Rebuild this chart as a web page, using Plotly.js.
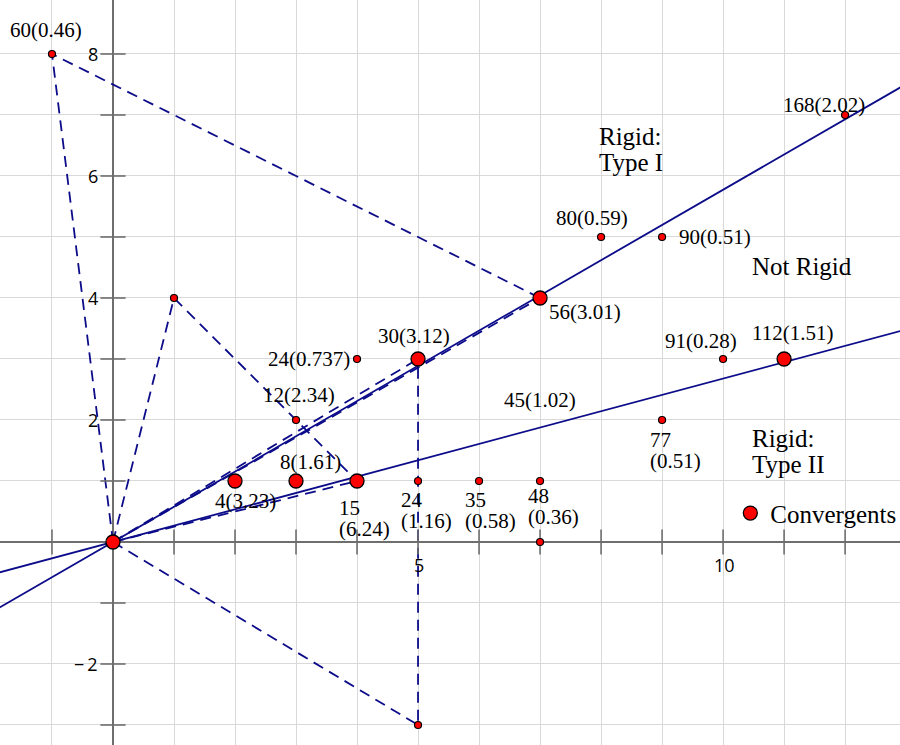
<!DOCTYPE html>
<html>
<head>
<meta charset="utf-8">
<script src="https://cdn.plot.ly/plotly-3.0.1.min.js"></script>
<style>
  html, body { margin: 0; padding: 0; background: #fff; overflow: hidden; }
  #chart { width: 900px; height: 745px; }
</style>
</head>
<body>
<div id="chart"></div>
<script>
// lattice points
const convX = [0, 2, 3, 4, 5, 7, 11];
const convY = [0, 1, 1, 1, 3, 4, 3];
const otherX = [-1, 1, 3, 4, 5, 6, 7, 7, 9, 8, 9, 10, 12, 5];
const otherY = [8, 4, 2, 3, 1, 1, 1, 0, 2, 5, 5, 3, 7, -3];

// point labels
const labelX = [-1, 4, 3, 3, 2, 4, 5, 6, 7, 7, 9, 7, 8, 9, 12, 10, 11, 5];
const labelY = [8, 3, 2, 1, 1, 1, 1, 1, 1, 2, 2, 4, 5, 5, 7, 3, 3, 3];
const labelText = ['60(0.46)', '24(0.737)', '12(2.34)', '8(1.61)', '4(3.23)',
  '15<br>(6.24)', '24<br>(1.16)', '35<br>(0.58)', '48<br>(0.36)', '45(1.02)',
  '77<br>(0.51)', '56(3.01)', '80(0.59)', '90(0.51)', '168(2.02)', '91(0.28)',
  '112(1.51)', '30(3.12)'];

// dashed polygon edges (null = break)
const dashX = [0, -1, 7, null, 0, 1, 4, null, 0, 5, null, 0, 7, null, 0, 4, null, 0, 5, 5];
const dashY = [0, 8, 4, null, 0, 4, 1, null, 0, 3, null, 0, 4, null, 0, 1, null, 0, -3, 3];

// rays through the origin
const raySlopes = [0.5774, 0.2679];

// region captions
const regionText = ['Rigid:<br>Type I', 'Not Rigid', 'Rigid:<br>Type II'];

// axis tick labels
const xTickVals = [5, 10];
const yTickVals = [8, 6, 4, 2, -2];

const NAVY = '#0c0c8a';
const SERIF = 'Liberation Serif, Times New Roman, serif';
const SANS = 'Open Sans, DejaVu Sans, sans-serif';
const XR = [-1.852, 12.9];
const YR = [-3.328, 8.885];

// label placement: [xanchor, dx, dy] in px, dy downwards
const labelPos = [
  ['center', -6, -24], ['right', -5, 0], ['center', 3, -25], ['center', 14, -19],
  ['center', 10, 20], ['left', -20, 27], ['left', -19, 19], ['left', -16, 19],
  ['left', -14, 15], ['center', 0, -20], ['left', -14, 20], ['left', 7, 14],
  ['center', -9, -19], ['left', 15, 0], ['center', -21, -10], ['center', -22, -18],
  ['center', 8, -26], ['center', -4, -23],
];
// region captions: data position of left edge / first line
const regionPos = [[7.93, 6.65], [10.44, 4.51], [10.44, 1.69]];

const traces = [];

traces.push({
  x: dashX, y: dashY, type: 'scatter', mode: 'lines',
  line: { color: NAVY, width: 1.8, dash: '11px,7px' },
  hoverinfo: 'skip', showlegend: false,
});

raySlopes.forEach(s => {
  traces.push({
    x: [-2, 13], y: [-2 * s, 13 * s], type: 'scatter', mode: 'lines',
    line: { color: NAVY, width: 1.8 },
    hoverinfo: 'skip', showlegend: false,
  });
});

// tick marks across the axes
const tx = [], ty = [];
for (let i = -1; i <= 12; i++) if (i !== 0) { tx.push(i); ty.push(0); }
const ux = [], uy = [];
for (let j = -3; j <= 8; j++) if (j !== 0) { ux.push(0); uy.push(j); }
traces.push({
  x: tx, y: ty, type: 'scatter', mode: 'markers', hoverinfo: 'skip', showlegend: false,
  marker: { symbol: 'line-ns', size: 18, line: { color: '#6e6e6e', width: 1.6 } },
});
traces.push({
  x: ux, y: uy, type: 'scatter', mode: 'markers', hoverinfo: 'skip', showlegend: false,
  marker: { symbol: 'line-ew', size: 18, line: { color: '#6e6e6e', width: 1.6 } },
});

traces.push({
  x: otherX, y: otherY, type: 'scatter', mode: 'markers', showlegend: false,
  marker: { color: '#ff0000', size: 7, line: { color: '#000', width: 1.2 } },
});
traces.push({
  x: convX, y: convY, type: 'scatter', mode: 'markers', name: 'Convergents',
  marker: { color: '#ff0000', size: 14, line: { color: '#000', width: 1.3 } },
});

const annotations = [];

labelText.forEach((t, i) => {
  const [anchor, dx, dy] = labelPos[i];
  t.split('<br>').forEach((line, k) => {
    annotations.push({
      x: labelX[i], y: labelY[i], xref: 'x', yref: 'y', text: line, showarrow: false,
      xanchor: anchor, yanchor: 'middle', xshift: dx, yshift: -(dy + k * 21),
      font: { family: SERIF, size: 21, color: '#000' },
    });
  });
});

regionText.forEach((t, i) => {
  t.split('<br>').forEach((line, k) => {
    annotations.push({
      x: regionPos[i][0], y: regionPos[i][1], xref: 'x', yref: 'y', text: line,
      showarrow: false, xanchor: 'left', yanchor: 'middle', yshift: -k * 26,
      font: { family: SERIF, size: 25, color: '#000' },
    });
  });
});

xTickVals.forEach(v => annotations.push({
  x: v, y: 0, xref: 'x', yref: 'y', text: String(v), showarrow: false,
  yanchor: 'middle', yshift: -23, xshift: 1, font: { family: SANS, size: 18, color: '#000' },
}));
yTickVals.forEach(v => annotations.push({
  x: 0, y: v, xref: 'x', yref: 'y', text: v < 0 ? '\u2212\u2009' + (-v) : String(v),
  showarrow: false, xanchor: 'right', yanchor: 'middle', xshift: -13,
  font: { family: SANS, size: 18, color: '#000' },
}));

const axisBase = {
  dtick: 1, tick0: 0, showgrid: true, gridcolor: '#d9d9d9', gridwidth: 1,
  zeroline: true, zerolinecolor: '#6e6e6e', zerolinewidth: 1.8,
  showticklabels: false, ticks: '', showline: false, fixedrange: true,
};

Plotly.newPlot('chart', traces, {
  width: 900, height: 745,
  margin: { l: 0, r: 0, t: 0, b: 0, pad: 0, autoexpand: false },
  paper_bgcolor: '#fff', plot_bgcolor: '#fff',
  xaxis: { ...axisBase, range: XR },
  yaxis: { ...axisBase, range: YR },
  showlegend: true,
  legend: {
    x: 0.8115, y: 0.311, xanchor: 'left', yanchor: 'middle',
    bgcolor: 'rgba(0,0,0,0)', font: { family: SERIF, size: 25, color: '#000' },
  },
  annotations,
}, { displayModeBar: false, staticPlot: true });
</script>
</body>
</html>
